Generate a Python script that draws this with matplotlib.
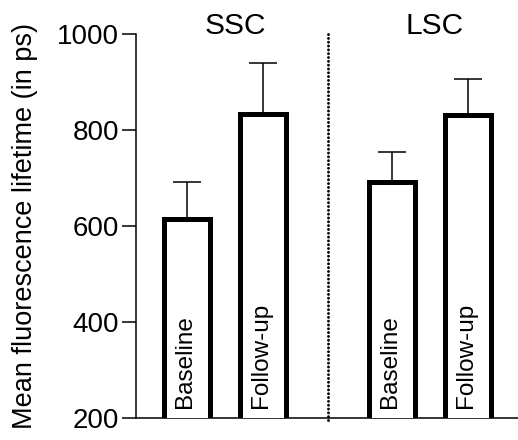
import matplotlib
matplotlib.use("Agg")
import matplotlib.pyplot as plt

groups = ["SSC", "LSC"]
conditions = ["Baseline", "Follow-up"]
means = [615, 834, 691, 832]
errors = [77, 106, 63, 74]
yticks = [200, 400, 600, 800, 1000]

plt.rcParams['font.family'] = ['Liberation Sans', 'DejaVu Sans']

fig = plt.figure(figsize=(5.18, 4.40), dpi=100)
ax = fig.add_axes([136/518, 22/440, 1 - 136/518, (418-34)/440])

pos = [0, 1, 2.71, 3.72]
ax.bar(pos, means, width=0.61, bottom=0, color='white', edgecolor='black',
       linewidth=3.6, zorder=3)
ax.errorbar(pos, means, yerr=[[0]*4, errors], fmt='none', ecolor='black',
            elinewidth=1.1, capsize=10, capthick=1.1, zorder=2)

labels = conditions * len(groups)
for p, lab in zip(pos, labels):
    ax.text(p - 0.03, 221, lab, rotation=90, ha='center', va='bottom',
            fontsize=17.5, zorder=4)

ax.text((pos[0] + pos[1]) / 2 + 0.14, 1.0, groups[0], transform=ax.get_xaxis_transform(),
        ha='center', va='baseline', fontsize=21.5)
ax.text((pos[2] + pos[3]) / 2 + 0.06, 1.0, groups[1], transform=ax.get_xaxis_transform(),
        ha='center', va='baseline', fontsize=21.5)

ax.plot([1.86, 1.86], [196, 1002], color='black', lw=2.1,
        linestyle=(0, (0.01, 1.3)), dash_capstyle='round', clip_on=False)

ax.set_xlim(-0.68, 4.38)
ax.set_ylim(200, 1000)
ax.set_yticks(yticks)
ax.set_xticks([])
ax.tick_params(axis='y', length=10, width=1.1, labelsize=20, pad=2)
ax.spines['top'].set_visible(False)
ax.spines['right'].set_visible(False)
ax.spines['left'].set_linewidth(1.1)
ax.spines['bottom'].set_linewidth(1.1)
ax.set_ylabel("Mean fluorescence lifetime (in ps)", fontsize=19.5, labelpad=14)

fig.savefig("out.png", dpi=100)
